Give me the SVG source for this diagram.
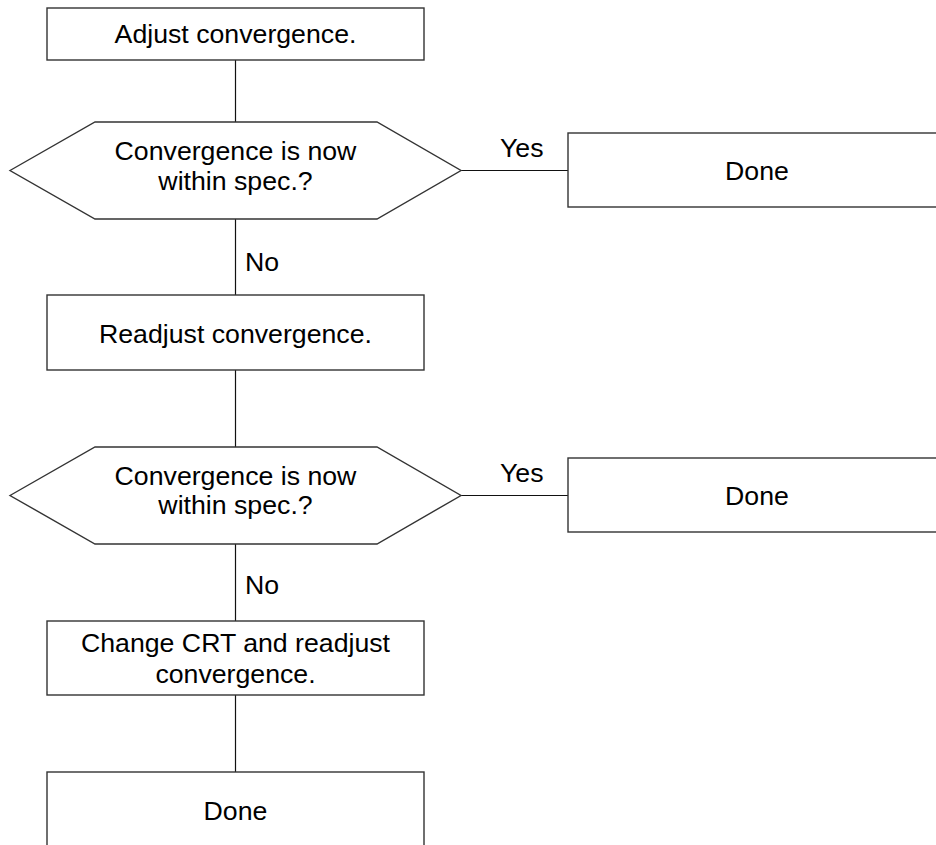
<svg xmlns="http://www.w3.org/2000/svg" width="936" height="845" viewBox="0 0 936 845">
<style>
.shape{fill:#fff;stroke:#333;stroke-width:1.4}
.conn{stroke:#111;stroke-width:1.2;fill:none}
text{font-family:"Liberation Sans",Arial,sans-serif;font-size:26.7px;fill:#000;text-anchor:middle}
.lbl{text-anchor:start}
</style>
<rect width="936" height="845" fill="#fff"/>
<g id="connectors">
<line class="conn" x1="235.5" y1="60" x2="235.5" y2="122"/>
<line class="conn" x1="461" y1="170.5" x2="568" y2="170.5"/>
<line class="conn" x1="235.5" y1="219" x2="235.5" y2="295"/>
<line class="conn" x1="235.5" y1="370" x2="235.5" y2="447"/>
<line class="conn" x1="461" y1="495.5" x2="568" y2="495.5"/>
<line class="conn" x1="235.5" y1="544" x2="235.5" y2="621"/>
<line class="conn" x1="235.5" y1="695" x2="235.5" y2="772"/>
<text class="lbl" x="500" y="157">Yes</text>
<text class="lbl" x="245" y="271">No</text>
<text class="lbl" x="500" y="482">Yes</text>
<text class="lbl" x="245" y="594">No</text>
</g>
<g id="n1">
<rect class="shape" x="47" y="8" width="377" height="52"/>
<text x="235.5" y="43">Adjust convergence.</text>
</g>
<g id="d1">
<polygon class="shape" points="10,170.5 95,122 377,122 461,170.5 377,219 95,219"/>
<text x="235.5" y="160">Convergence is now</text>
<text x="235.5" y="190">within spec.?</text>
</g>
<g id="done1">
<rect class="shape" x="568" y="133" width="378" height="74"/>
<text x="757" y="180">Done</text>
</g>
<g id="n2">
<rect class="shape" x="47" y="295" width="377" height="75"/>
<text x="235.5" y="343">Readjust convergence.</text>
</g>
<g id="d2">
<polygon class="shape" points="10,495.5 95,447 377,447 461,495.5 377,544 95,544"/>
<text x="235.5" y="485">Convergence is now</text>
<text x="235.5" y="514">within spec.?</text>
</g>
<g id="done2">
<rect class="shape" x="568" y="458" width="378" height="74"/>
<text x="757" y="505">Done</text>
</g>
<g id="n3">
<rect class="shape" x="47" y="621" width="377" height="74"/>
<text x="235.5" y="652">Change CRT and readjust</text>
<text x="235.5" y="683">convergence.</text>
</g>
<g id="done3">
<rect class="shape" x="47" y="772" width="377" height="76"/>
<text x="235.5" y="820">Done</text>
</g>
</svg>
